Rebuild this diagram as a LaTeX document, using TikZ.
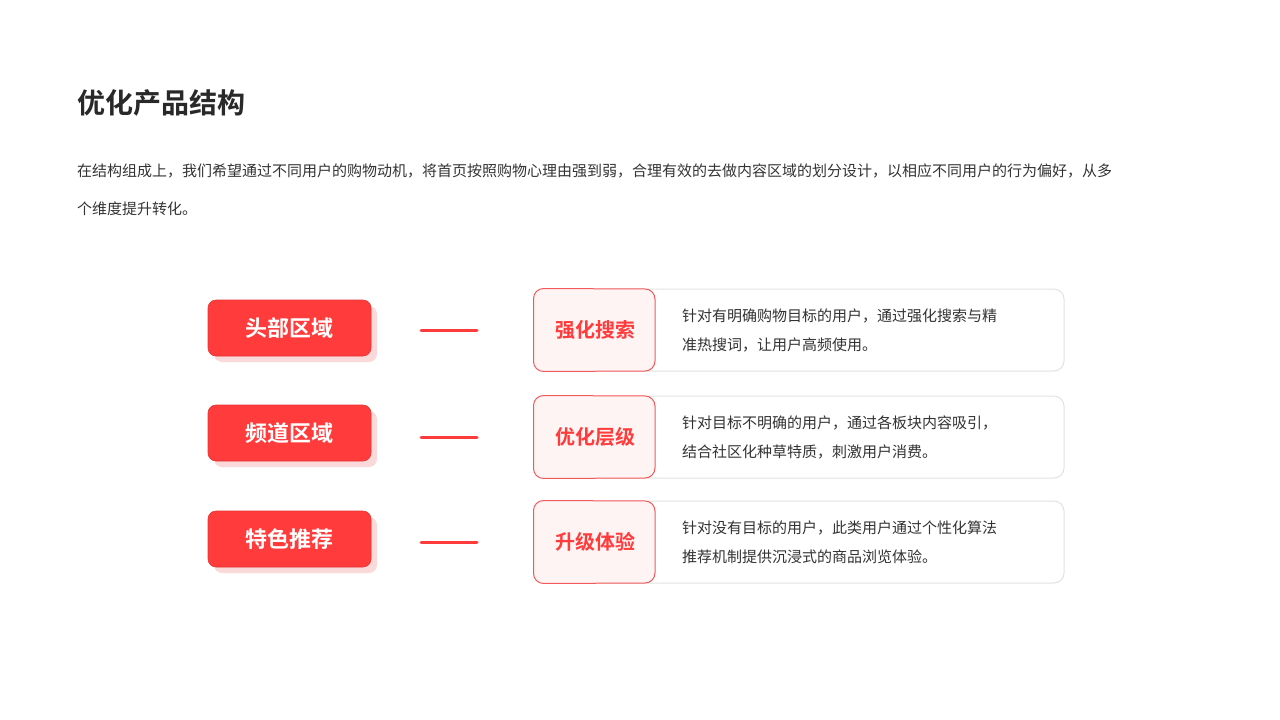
\documentclass[tikz,border=0pt]{standalone}
\usepackage{fontspec}
\newfontfamily\cjk{Noto Sans CJK SC}
\newfontfamily\cjkb{Noto Sans CJK SC Bold}
\definecolor{rd}{HTML}{FF3B3B}
\definecolor{rdl}{HTML}{F25A5A}
\definecolor{pk}{HTML}{FFF4F4}
\definecolor{gb}{HTML}{E2E2E2}
\definecolor{tx}{HTML}{333333}
\definecolor{sh}{HTML}{F9D9D9}
\begin{document}
\begin{tikzpicture}[x=1pt,y=-1pt,
 redbox/.style={fill=rd,draw=rd!90!black,line width=0.6pt,rounded corners=8pt,minimum width=163pt,minimum height=56pt,text=white,font=\cjkb\fontsize{22}{26}\selectfont,inner sep=0pt},
 card/.style={draw=gb,line width=1pt,fill=white,rounded corners=10pt,minimum width=530pt,minimum height=82pt,inner sep=0pt},
 tag/.style={text=rd,font=\cjkb\fontsize{20}{24}\selectfont},
 desc/.style={text=tx,font=\cjk\fontsize{15}{29}\selectfont,align=left,anchor=west,inner sep=0pt},
 bar/.style={line width=3pt,line cap=round,draw=rd}]
\useasboundingbox (0,0) rectangle (1280,720);
\node[anchor=west,text=tx!80!black,font=\cjkb\fontsize{28}{32}\selectfont,inner sep=0pt] (title) at (77,103) {优化产品结构};
\node[anchor=west,text=tx,font=\cjk\fontsize{15}{18}\selectfont,inner sep=0pt] (p1) at (77,171) {在结构组成上，我们希望通过不同用户的购物动机，将首页按照购物心理由强到弱，合理有效的去做内容区域的划分设计，以相应不同用户的行为偏好，从多};
\node[anchor=west,text=tx,font=\cjk\fontsize{15}{18}\selectfont,inner sep=0pt] (p2) at (77,209) {个维度提升转化。};
\foreach \i/\y/\a/\b/\c/\d/\e in {1/328/头部区域/强化搜索/330/针对有明确购物目标的用户，通过强化搜索与精/准热搜词，让用户高频使用。,
 2/433/频道区域/优化层级/437/针对目标不明确的用户，通过各板块内容吸引，/结合社区化种草特质，刺激用户消费。,
 3/539/特色推荐/升级体验/542/针对没有目标的用户，此类用户通过个性化算法/推荐机制提供沉浸式的商品浏览体验。}{
 \fill[sh,rounded corners=8pt] (214,\y-22) rectangle (377,\y+34);
 \node[redbox] (l\i) at (289.5,\y) {\a};
 \coordinate (s\i) at (421,\c); \coordinate (e\i) at (477,\c);
 \draw[bar] (s\i) -- (e\i);
 \node[card] (c\i) at (799,\c) {};
 \draw[draw=rdl,fill=pk,line width=1pt,rounded corners=10pt] (c\i.north west) -- (655,\c-41) -- (655,\c+41) -- (c\i.south west) -- cycle;
 \node[tag] (t\i) at (595,\c) {\b};
 \node[desc] (d\i) at (682,\c) {\d\\\e};
}
\end{tikzpicture}
\end{document}
